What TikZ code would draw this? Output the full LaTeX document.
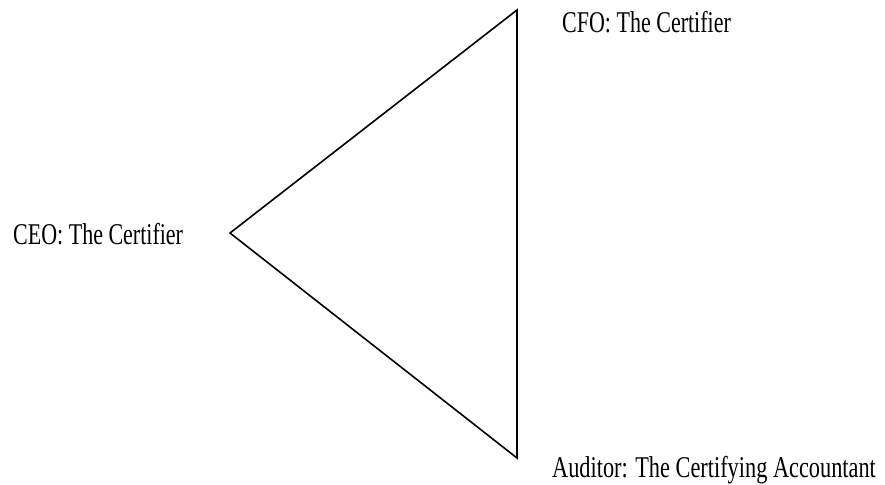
\documentclass[tikz,border=0pt]{standalone}
\usepackage{fontspec}
\setmainfont{Liberation Serif}
\begin{document}
\begin{tikzpicture}[x=1pt,y=-1pt,
  lbl/.style={anchor=base west,inner sep=0pt,font=\fontsize{22}{24}\selectfont},
  edge/.style={line width=1.6pt,line join=miter}]
\useasboundingbox (0,0) rectangle (885,484);
\coordinate (L) at (230,233);
\coordinate (T) at (517,10);
\coordinate (B) at (517,458);
\draw[edge] (T) -- (L) -- (B) -- cycle;
\node[lbl] (ceo) at (13,244) {\scalebox{1}[1.37]{CEO: The Certifier}};
\node[lbl] (cfo) at (562,33) {\scalebox{1}[1.37]{CFO: The Certifier}};
\node[lbl] (aud) at (552,477) {\scalebox{1.015}[1.37]{Auditor: The Certifying Accountant}};
\end{tikzpicture}
\end{document}
